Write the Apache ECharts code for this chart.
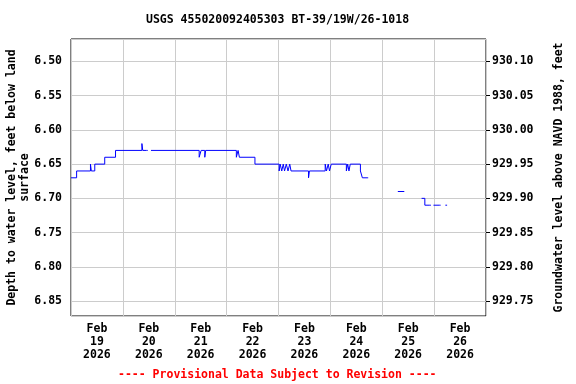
<!DOCTYPE html>
<html>
<head>
<meta charset="utf-8">
<script src="https://cdn.jsdelivr.net/npm/echarts@6/dist/echarts.min.js"></script>
<style>html,body{margin:0;padding:0;background:#fff}#c{width:576px;height:384px}</style>
</head>
<body>
<div id="c"></div>
<script>
// Hours since 2026-02-19 00:00
var times = [0, 2.6, 9.0, 9.4, 11.0, 15.6, 20.6, 32.8, 33.2, 34.9,
  35.5, 37.0, 59.3, 60.2, 61.9, 62.3, 76.5, 77.3, 77.9, 85.1,
  96.3, 96.8, 97.5, 98.2, 98.8, 99.6, 100.4, 101.2, 101.8, 109.9,
  110.3, 117.6, 118.2, 119.0, 119.6, 120.4, 127.4, 128.0, 128.6, 129.2,
  133.9, 134.8, 137.0, 137.5, 151.2, 154.2, 154.5, 162.2, 163.7, 166.0,
  166.5, 167.7, 170.6, 171.0, 173.2, 173.6, 174];
// Depth to water level, feet below land surface (null = gap)
var depths = [6.67, 6.66, 6.65, 6.66, 6.65, 6.64, 6.63, 6.62, 6.63, 6.63,
  null, 6.63, 6.64, 6.63, 6.64, 6.63, 6.64, 6.63, 6.64, 6.65,
  6.66, 6.65, 6.66, 6.65, 6.66, 6.65, 6.66, 6.65, 6.66, 6.67,
  6.66, 6.65, 6.66, 6.65, 6.66, 6.65, 6.66, 6.65, 6.66, 6.65,
  6.66, 6.67, 6.67, null, 6.69, 6.69, null, 6.70, 6.71, 6.71,
  null, 6.71, 6.71, null, 6.71, 6.71, null];
var dayLabels = ['Feb\n19\n2026', 'Feb\n20\n2026', 'Feb\n21\n2026', 'Feb\n22\n2026',
  'Feb\n23\n2026', 'Feb\n24\n2026', 'Feb\n25\n2026', 'Feb\n26\n2026'];
var landSurface = 936.60;
var depthMin = 6.4673, depthMax = 6.8718;

var FONT = 'DejaVu Sans Mono';
var data = times.map(function (t, i) { return [t, depths[i] === null ? '-' : depths[i]]; });

var chart = echarts.init(document.getElementById('c'), null, { renderer: 'canvas' });
chart.setOption({
  animation: false,
  backgroundColor: '#fff',
  title: [{
    text: 'USGS 455020092405303 BT-39/19W/26-1018',
    left: 146, top: 14, padding: 0,
    textStyle: { fontFamily: FONT, fontWeight: 'bold', fontSize: 11.5, color: '#000' }
  }, {
    text: '---- Provisional Data Subject to Revision ----',
    left: 118, top: 369, padding: 0,
    textStyle: { fontFamily: FONT, fontWeight: 'bold', fontSize: 11.5, color: '#ff0000' }
  }],
  grid: { left: 71, top: 39, right: 90, bottom: 68, containLabel: false, outerBoundsMode: 'none',
    show: true, borderColor: '#000', borderWidth: 1, backgroundColor: 'transparent' },
  xAxis: [{
    type: 'value', min: 0, max: 192, interval: 24,
    axisLine: { show: false }, axisTick: { show: false }, axisLabel: { show: false },
    splitLine: { show: true, lineStyle: { color: '#cccccc', width: 1 } }
  }, {
    type: 'category', data: dayLabels, boundaryGap: true, position: 'bottom',
    axisLine: { show: false }, axisTick: { show: false }, splitLine: { show: false },
    axisLabel: { margin: 7, lineHeight: 13, fontFamily: FONT, fontWeight: 'bold', fontSize: 11.5, color: '#000', interval: 0 }
  }],
  yAxis: [{
    type: 'value', inverse: true, min: depthMin, max: depthMax, splitNumber: 8,
    name: 'Depth to water level, feet below land\nsurface',
    nameLocation: 'middle', nameRotate: 90, nameGap: 39, nameMoveOverlap: false,
    nameTextStyle: { fontFamily: FONT, fontWeight: 'bold', fontSize: 11.5, color: '#000', lineHeight: 13 },
    axisLine: { show: false }, axisTick: { show: false },
    axisLabel: { margin: 9, showMinLabel: false, showMaxLabel: false, fontFamily: FONT, fontWeight: 'bold', fontSize: 11.5, color: '#000',
      formatter: function (v) { return v.toFixed(2); } },
    splitLine: { show: true, lineStyle: { color: '#cccccc', width: 1 } }
  }, {
    type: 'value', position: 'right', min: landSurface - depthMax, max: landSurface - depthMin, splitNumber: 8,
    name: 'Groundwater level above NAVD 1988, feet',
    nameLocation: 'middle', nameRotate: 90, nameGap: 67, nameMoveOverlap: false,
    nameTextStyle: { fontFamily: FONT, fontWeight: 'bold', fontSize: 11.5, color: '#000' },
    axisLine: { show: false },
    axisTick: { show: true, inside: false, length: 4, lineStyle: { color: '#000' } },
    axisLabel: { margin: 6, showMinLabel: false, showMaxLabel: false, fontFamily: FONT, fontWeight: 'bold', fontSize: 11.5, color: '#000',
      formatter: function (v) { return v.toFixed(2); } },
    splitLine: { show: false }
  }],
  series: [{
    type: 'line', xAxisIndex: 0, yAxisIndex: 0, data: data, step: 'end',
    showSymbol: false, connectNulls: false,
    lineStyle: { color: '#0000ff', width: 1 }, itemStyle: { color: '#0000ff' }
  }]
});
</script>
</body>
</html>
